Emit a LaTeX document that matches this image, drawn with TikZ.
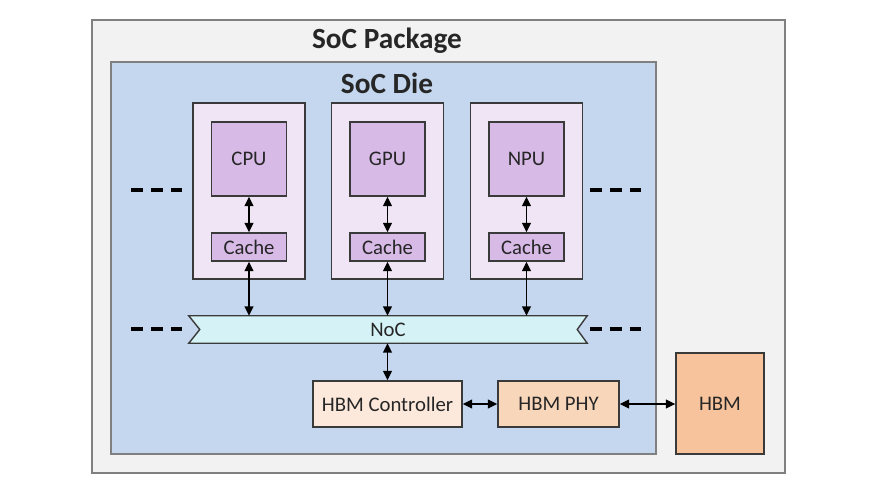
\documentclass[tikz,border=0pt]{standalone}
\usepackage{fontspec}
\setmainfont{Carlito}
\usepackage{xcolor}
\usetikzlibrary{arrows.meta,positioning,calc}
\definecolor{pkgfill}{HTML}{F2F2F2}
\definecolor{diefill}{HTML}{C5D7EE}
\definecolor{corefill}{HTML}{EFE5F5}
\definecolor{unitfill}{HTML}{D8BAE7}
\definecolor{nocfill}{HTML}{D5F3F6}
\definecolor{ctrlfill}{HTML}{FCE9DC}
\definecolor{phyfill}{HTML}{F8D6BA}
\definecolor{hbmfill}{HTML}{F7C39C}
\definecolor{edge}{HTML}{3A3A3A}

\begin{document}
\begin{tikzpicture}[x=0.03cm,y=-0.03cm,>={Triangle[length=8pt,width=7.5pt]},
  font=\fontsize{17.7}{20}\selectfont,text=black!85,
  sz/.style 2 args={minimum width=#1*0.03cm,minimum height=#2*0.03cm},
  box/.style={draw=edge,line width=1.2pt,inner sep=0pt,align=center},
  title/.style={font=\fontsize{25}{28}\selectfont\bfseries},
  link/.style={<->,line width=1.2pt,draw=black},
  etc/.style={line width=2.6pt,dash pattern=on 10pt off 7pt}]
\useasboundingbox (0,0) rectangle (876,493);
\node (pkg) [draw=black!50,line width=1pt,fill=pkgfill,sz={693}{453}] at (438.5,246.5) {};
\node (die) [draw=black!50,line width=1pt,fill=diefill,sz={545}{392}] at (383.5,258) {};
\node (pkgtitle) [title] at (387,41) {SoC Package};
\node (dietitle) [title] at (387,83) {SoC Die};
% NoC ribbon
\node (noc) [inner sep=0pt,sz={398}{27}] at (388,329.5) {};
\draw[draw=edge,line width=1.2pt,fill=nocfill,line join=miter]
  (noc.north west) -- (noc.north east) -- ($(noc.east)+(-10,0)$) -- (noc.south east)
  -- (noc.south west) -- ($(noc.west)+(11,0)$) -- cycle;
\node (noclabel) at (noc) {NoC};
% cores
\foreach \x/\name/\lbl in {249/cpu/CPU,387.5/gpu/GPU,526.5/npu/NPU}{
  \node (\name box) [box,fill=corefill,sz={112}{176}] at (\x,191) {};
  \node (\name) [box,fill=unitfill,sz={75}{74}] at (\x,159) {\lbl};
  \node (\name cache) [box,fill=unitfill,sz={75}{28}] at (\x,247) {Cache};
  \draw[link] (\name.south) -- (\name cache.north);
  \draw[link] (\name cache.south) -- (\name cache.south |- noc.north);
}
\foreach \y in {190,329}{
  \draw[etc] (131,\y) -- (182,\y);
  \draw[etc] (590,\y) -- (641,\y);
}
% memory path
\node (hbmc) [box,fill=ctrlfill,sz={149}{46}] at (387.5,404) {HBM Controller};
\node (phy) [box,fill=phyfill,sz={121}{46}] at (558.5,404) {HBM PHY};
\node (hbm) [box,fill=hbmfill,sz={88}{101}] at (720,403.5) {HBM};
\draw[link] (hbmc.north) -- (hbmc.north |- noc.south);
\draw[link] (hbmc) -- (phy);
\draw[link] (phy) -- (phy -| hbm.west);
\end{tikzpicture}
\end{document}
